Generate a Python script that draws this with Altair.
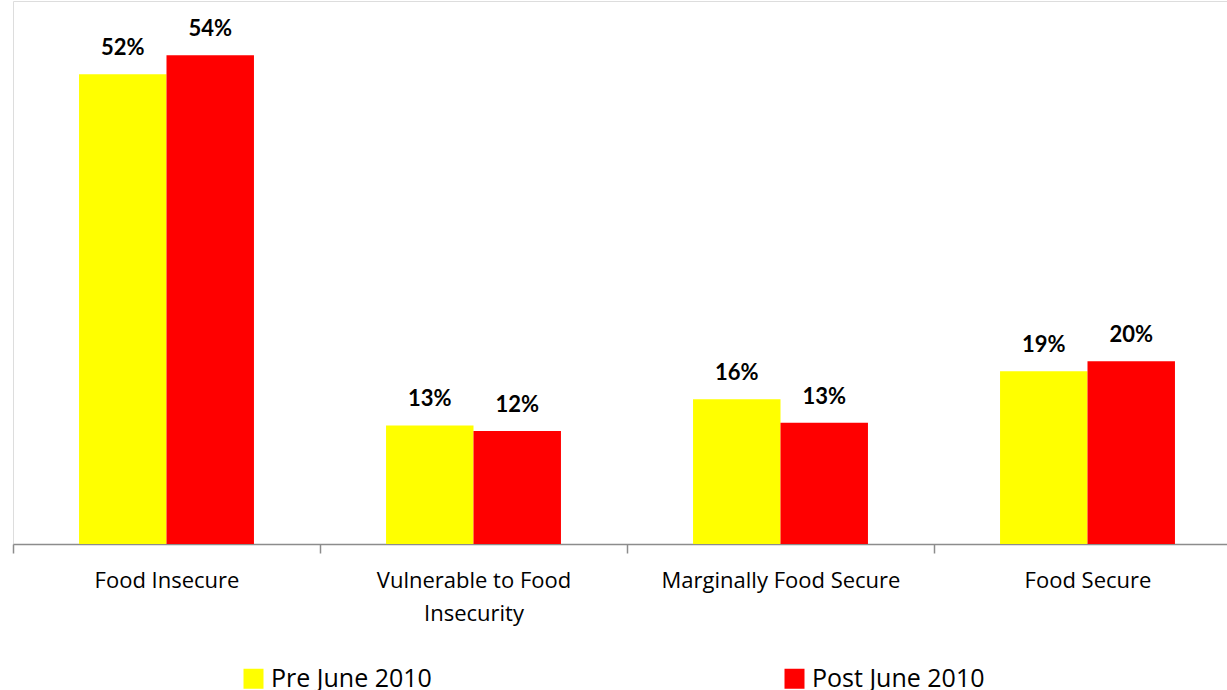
import altair as alt
import pandas as pd

categories = ["Food Insecure", "Vulnerable to Food Insecurity", "Marginally Food Secure", "Food Secure"]
series = ["Pre June 2010", "Post June 2010"]
pre_values = [51.9, 13.1, 16.0, 19.1]
post_values = [54.0, 12.5, 13.4, 20.2]
pre_labels = ["52%", "13%", "16%", "19%"]
post_labels = ["54%", "12%", "13%", "20%"]
colors = ["#FFFF00", "#FF0000"]

rows = []
for i, c in enumerate(categories):
    rows.append({"category": c, "series": series[0], "value": pre_values[i], "label": pre_labels[i]})
    rows.append({"category": c, "series": series[1], "value": post_values[i], "label": post_labels[i]})
df = pd.DataFrame(rows)

FONT = "Lato"
FONT2 = "Open Sans"

x_enc = alt.X(
    "category:N",
    sort=categories,
    title=None,
    scale=alt.Scale(range=[0, 1228], paddingInner=0, paddingOuter=0),
    axis=alt.Axis(
        tickBand="extent",
        domainColor="#8c8c8c",
        domainWidth=1.5,
        tickColor="#8c8c8c",
        tickWidth=1.5,
        tickSize=9,
        labelAngle=0,
        labelFont=FONT2,
        labelFontSize=22,
        labelColor="#000000",
        labelPadding=17,
        labelLineHeight=33,
        labelLimit=400,
        labelExpr="datum.label == 'Vulnerable to Food Insecurity' ? ['Vulnerable to Food', 'Insecurity'] : datum.label",
    ),
)
xoff = alt.XOffset("series:N", sort=series, scale=alt.Scale(paddingInner=0, paddingOuter=0.755))
y_enc = alt.Y("value:Q", scale=alt.Scale(domain=[0, 60], nice=False), axis=None)

bars = alt.Chart(df).mark_bar().encode(
    x=x_enc,
    xOffset=xoff,
    y=y_enc,
    color=alt.Color(
        "series:N",
        sort=series,
        scale=alt.Scale(domain=series, range=colors),
        legend=alt.Legend(
            title=None,
            orient="none",
            legendX=228,
            legendY=665,
            direction="horizontal",
            columnPadding=350,
            symbolType="square",
            symbolSize=400,
            symbolStrokeWidth=0,
            labelFont=FONT2,
            labelFontSize=25,
            labelColor="#000000",
            labelOffset=5,
            padding=0,
            labelLimit=400,
        ),
    ),
)

texts = alt.Chart(df).mark_text(
    font=FONT, fontSize=22, fontWeight="bold", color="#000000", baseline="alphabetic", dy=-19
).encode(
    x=x_enc,
    xOffset=xoff,
    y=y_enc,
    text="label:N",
)

chart = alt.layer(bars, texts).properties(
    width=1214,
    height=543,
    padding={"left": 13, "top": 1, "right": 0, "bottom": 146},
    autosize=alt.AutoSizeParams(type="none"),
).configure_view(stroke=None).configure(background="white")

chart.save("out.html", embed_options={"renderer": "svg", "actions": False})
